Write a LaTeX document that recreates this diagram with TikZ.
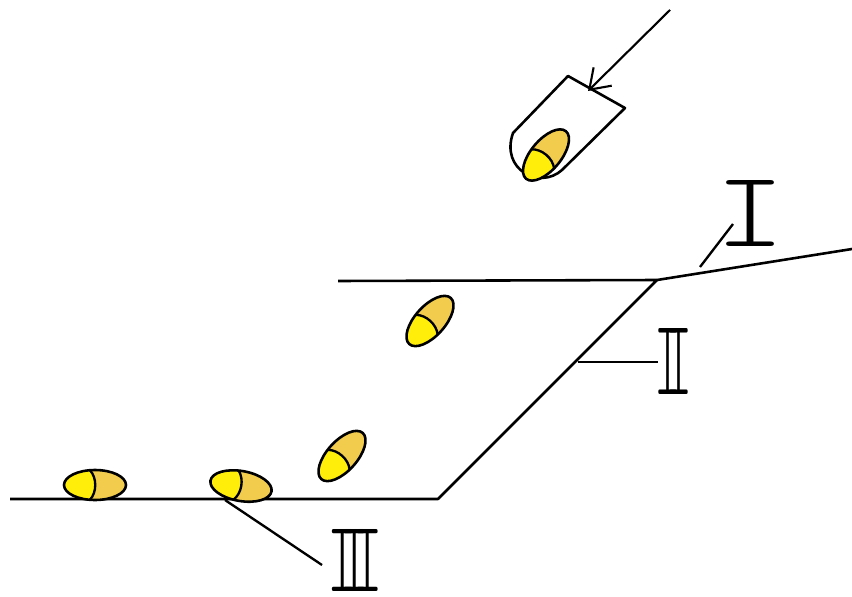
\documentclass[tikz,border=0pt]{standalone}
\usepackage{graphicx}
\usepackage{fontspec}
\newfontfamily\numfont{lmmonolt10-regular.otf}
\usetikzlibrary{arrows.meta}
\definecolor{pilllight}{RGB}{255,238,10}
\definecolor{pilldark}{RGB}{242,204,76}
\newcommand{\numeral}[3]{\resizebox{#1}{#2}{\numfont #3}}
\tikzset{
  track/.style={line width=2.2pt, line join=round},
  leader/.style={line width=2pt},
  feedarrow/.style={line width=1.8pt, -{Straight Barb[length=16pt,width=22pt,line width=1.8pt]}},
  numlabel/.style={inner sep=0pt},
  pill/.pic={
    \begin{scope}
      \clip (0,0) ellipse [x radius=31, y radius=15];
      \fill[pilldark] (-32,-16) rectangle (32,16);
      \fill[pilllight] (-5,16) -- (-5,14.8) .. controls (2,7) and (2,-7) .. (-5,-14.8) -- (-5,-16) -- (-32,-16) -- (-32,16) -- cycle;
    \end{scope}
    \draw[line width=2pt] (-5,14.8) .. controls (2,7) and (2,-7) .. (-5,-14.8);
    \draw[line width=2.2pt] (0,0) ellipse [x radius=31, y radius=15];
  }
}

\begin{document}
\begin{tikzpicture}[x=0.03cm, y=-0.03cm]
            \useasboundingbox (0,0) rectangle (852,596);

            \coordinate (ltop) at (338,281);
            \coordinate (knee) at (657,280);
            \coordinate (rise) at (852,249);
            \coordinate (foot) at (438,499);
            \coordinate (lbot) at (10,499);
            \draw[track] (ltop) -- (knee) -- (foot) -- (lbot);
            \draw[track] (knee) -- (rise);

            \coordinate (feed) at (670,10);
            \coordinate (inlet) at (588,91);
            \draw[feedarrow] (feed) -- (inlet);
            \draw[track] (513,133) -- (568,76) -- (625,108) -- (562,170) .. controls (540,190) and (500,170) .. (513,133) -- cycle;

            \pic (tubepill) [rotate=50] at (546,155) {pill};
            \pic (upperpill) [rotate=48] at (430,321) {pill};
            \pic (lowerpill) [rotate=48] at (342,456) {pill};
            \pic (restpill) at (95,485) {pill};
            \pic (landpill) [rotate=-10] at (241,486) {pill};

            \node[numlabel] (lab1) at (750,213) {\numeral{2.1cm}{1.98cm}{I}};
            \node[numlabel] (lab2) at (673,361) {\numeral{1.14cm}{1.98cm}{I\kern-.31em I}};
            \node[numlabel] (lab3) at (355,560) {\numeral{1.66cm}{1.86cm}{I\kern-.31em I\kern-.31em I}};

            \coordinate (lead1a) at (700,267);
            \coordinate (lead1b) at (733,224);
            \coordinate (lead2a) at (578,362);
            \coordinate (lead2b) at (658,362);
            \coordinate (lead3a) at (225,500);
            \coordinate (lead3b) at (322,565);
            \draw[leader] (lead1a) -- (lead1b);
            \draw[leader] (lead2a) -- (lead2b);
            \draw[leader] (lead3a) -- (lead3b);
        \end{tikzpicture}
\end{document}
